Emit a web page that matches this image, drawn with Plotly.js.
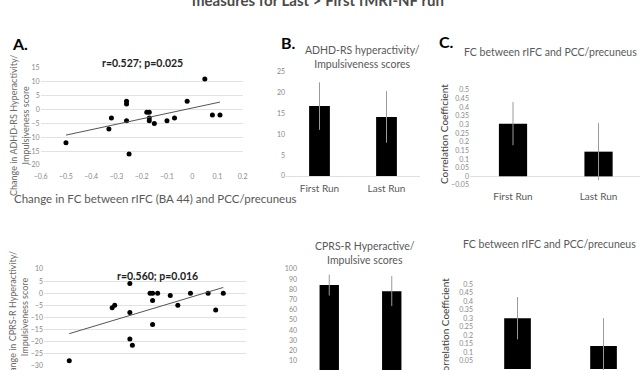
<!DOCTYPE html>
<html>
<head>
<meta charset="utf-8">
<script src="https://cdn.plot.ly/plotly-3.0.1.min.js"></script>
<style>html,body{margin:0;padding:0;background:#fff;}#chart{width:640px;height:370px;}</style>
</head>
<body>
<div id="chart"></div>
<script>
// ---- Data ----
const fcChangeA = [-0.5, -0.33, -0.32, -0.26, -0.26, -0.26, -0.25, -0.18, -0.17, -0.17, -0.17, -0.15, -0.1, -0.07, -0.02, 0.05, 0.08, 0.11];
const adhdChange = [-12, -7, -3, 3, 2, -4, -16, -1, -1, -3, -4, -5, -4, -3, 3, 11, -2, -2];
const fcChangeB = [-0.5, -0.33, -0.32, -0.26, -0.26, -0.26, -0.25, -0.18, -0.17, -0.17, -0.17, -0.15, -0.1, -0.07, -0.02, 0.05, 0.08, 0.11];
const cprsChange = [-28, -6, -5, 4, -8, -19, -21.5, 0, 0, -3, -13, 0, -1, -5, 0, 0, -7, 0];
const runs = ['First Run', 'Last Run'];
const adhdMeans = [16.8, 14.2];
const adhdErr = [5.7, 6.2];
const fcTopMeans = [0.305, 0.143];
const fcTopErr = [0.125, 0.165];
const cprsMeans = [84.3, 78.3];
const cprsErr = [10.3, 14.7];
const fcBottomMeans = [0.30, 0.135];
const fcBottomErr = [0.125, 0.165];
const statsA = 'r=0.527; p=0.025';
const statsB = 'r=0.560; p=0.016';

// ---- Helpers ----
const W = 640, H = 370;
const px = v => v / W;
const py = v => 1 - v / H;
function fit(xs, ys) {
  const n = xs.length;
  const mx = xs.reduce((a, b) => a + b, 0) / n;
  const my = ys.reduce((a, b) => a + b, 0) / n;
  let sxy = 0, sxx = 0;
  for (let i = 0; i < n; i++) { sxy += (xs[i] - mx) * (ys[i] - my); sxx += (xs[i] - mx) ** 2; }
  const b = sxy / sxx, a = my - b * mx;
  const x0 = Math.min(...xs), x1 = Math.max(...xs);
  return { x: [x0, x1], y: [a + b * x0, a + b * x1] };
}
const fitA = fit(fcChangeA, adhdChange);
const fitB = fit(fcChangeB, cprsChange);

const tickFont = { family: 'Lato', size: 7, color: '#8a8a8a' };
const catFont = { family: 'Lato', size: 10, color: '#595959' };
const errStyle = (arr) => ({ type: 'data', array: arr, visible: true, color: '#9a9a9a', thickness: 1, width: 0 });

const traces = [
  { type: 'scatter', mode: 'markers', x: fcChangeA, y: adhdChange, xaxis: 'x', yaxis: 'y',
    marker: { color: '#000', size: 5 }, cliponaxis: false },
  { type: 'scatter', mode: 'lines', x: fitA.x, y: fitA.y, xaxis: 'x', yaxis: 'y',
    line: { color: '#555', width: 1 } },
  { type: 'bar', x: runs, y: adhdMeans, xaxis: 'x2', yaxis: 'y2', width: 0.31,
    marker: { color: '#000' }, error_y: errStyle(adhdErr) },
  { type: 'bar', x: runs, y: fcTopMeans, xaxis: 'x3', yaxis: 'y3', width: 0.33,
    marker: { color: '#000' }, error_y: errStyle(fcTopErr) },
  { type: 'scatter', mode: 'markers', x: fcChangeB, y: cprsChange, xaxis: 'x4', yaxis: 'y4',
    marker: { color: '#000', size: 5 }, cliponaxis: false },
  { type: 'scatter', mode: 'lines', x: fitB.x, y: fitB.y, xaxis: 'x4', yaxis: 'y4',
    line: { color: '#555', width: 1 } },
  { type: 'bar', x: runs, y: cprsMeans, xaxis: 'x5', yaxis: 'y5', width: 0.31,
    marker: { color: '#000' }, error_y: errStyle(cprsErr) },
  { type: 'bar', x: runs, y: fcBottomMeans, xaxis: 'x6', yaxis: 'y6', width: 0.31,
    marker: { color: '#000' }, error_y: errStyle(fcBottomErr) }
];

const noGridX = { showgrid: false, zeroline: false, showline: false, ticks: '', fixedrange: true };
const gridY = { showgrid: true, gridcolor: '#e2e2e2', gridwidth: 1, zeroline: false, showline: false, ticks: '', tickfont: tickFont };
const barY = { showgrid: false, zeroline: false, showline: false, ticks: '', tickfont: tickFont };

const layout = {
  width: W, height: H,
  margin: { l: 0, r: 0, t: 0, b: 0 },
  paper_bgcolor: '#fff', plot_bgcolor: 'rgba(0,0,0,0)',
  showlegend: false,
  font: { family: 'Lato', color: '#595959' },
  xaxis: Object.assign({}, noGridX, { domain: [px(40.7), px(242.7)], range: [-0.6, 0.2], tick0: -0.6, dtick: 0.1, tickfont: tickFont, anchor: 'y', ticklabelstandoff: 6 }),
  yaxis: Object.assign({}, gridY, { domain: [py(165), py(68)], range: [-20, 15], dtick: 5, tick0: 0, anchor: 'x' }),
  xaxis2: Object.assign({}, noGridX, { domain: [px(286), px(420)], type: 'category', range: [-0.5, 1.5], tickfont: catFont, anchor: 'y2', showline: true, linecolor: '#e0e0e0', ticklabelstandoff: 3 }),
  yaxis2: Object.assign({}, barY, { domain: [py(176), py(72)], range: [0, 25], dtick: 5, tick0: 0, anchor: 'x2' }),
  xaxis3: Object.assign({}, noGridX, { domain: [px(470), 1], type: 'category', range: [-0.503, 1.485], tickfont: catFont, anchor: 'y3', ticklabelstandoff: 4 }),
  yaxis3: Object.assign({}, barY, { domain: [py(185), py(90)], range: [-0.05, 0.5], dtick: 0.05, tick0: 0, anchor: 'x3', zeroline: true, zerolinecolor: '#e0e0e0', zerolinewidth: 1 }),
  xaxis4: Object.assign({}, noGridX, { domain: [px(44), px(246)], range: [-0.6, 0.2], showticklabels: false, anchor: 'y4' }),
  yaxis4: Object.assign({}, gridY, { domain: [py(365.7), py(269)], range: [-30, 10], dtick: 5, tick0: 0, anchor: 'x4' }),
  xaxis5: Object.assign({}, noGridX, { domain: [px(298), px(423)], type: 'category', range: [-0.5, 1.5], showticklabels: false, anchor: 'y5' }),
  yaxis5: Object.assign({}, barY, { domain: [0, py(269)], range: [0.98, 100], dtick: 10, tick0: 0, anchor: 'x5' }),
  xaxis6: Object.assign({}, noGridX, { domain: [px(474), 1], type: 'category', range: [-0.506, 1.424], showticklabels: false, anchor: 'y6' }),
  yaxis6: Object.assign({}, barY, { domain: [0, py(284.3)], range: [-0.006, 0.5], dtick: 0.05, tick0: 0, anchor: 'x6' }),
  annotations: [
    { text: '<b>measures for Last &gt; First fMRI-NF run</b>', xref: 'paper', yref: 'paper', x: px(318), y: py(11), xanchor: 'center', yanchor: 'bottom', showarrow: false, font: { family: 'Lato', size: 15, color: '#4a4a4a' } },
    { text: '<b>A.</b>', xref: 'paper', yref: 'paper', x: px(20), y: py(43), xanchor: 'center', yanchor: 'middle', showarrow: false, font: { family: 'Lato', size: 16, color: '#000' } },
    { text: '<b>B.</b>', xref: 'paper', yref: 'paper', x: px(288.5), y: py(42.5), xanchor: 'center', yanchor: 'middle', showarrow: false, font: { family: 'Lato', size: 16, color: '#000' } },
    { text: '<b>C.</b>', xref: 'paper', yref: 'paper', x: px(446.5), y: py(42), xanchor: 'center', yanchor: 'middle', showarrow: false, font: { family: 'Lato', size: 16, color: '#000' } },
    { text: '<b>' + statsA + '</b>', xref: 'paper', yref: 'paper', x: px(142), y: py(63), xanchor: 'center', yanchor: 'middle', showarrow: false, font: { family: 'Lato', size: 10.5, color: '#222' } },
    { text: '<b>' + statsB + '</b>', xref: 'paper', yref: 'paper', x: px(157), y: py(276), xanchor: 'center', yanchor: 'middle', showarrow: false, font: { family: 'Lato', size: 10.5, color: '#222' } },
    { text: 'Change in ADHD-RS Hyperactivity/<br>Impulsiveness score', xref: 'paper', yref: 'paper', x: px(19), y: py(126), xanchor: 'center', yanchor: 'middle', textangle: -90, showarrow: false, font: { family: 'Lato', size: 9, color: '#6a6a6a' } },
    { text: 'Change in FC between rIFC (BA 44) and PCC/precuneus', xref: 'paper', yref: 'paper', x: px(12), y: py(198), xanchor: 'left', yanchor: 'middle', showarrow: false, font: { family: 'Lato', size: 11.5, color: '#595959' } },
    { text: 'ADHD-RS hyperactivity/<br>Impulsiveness scores', xref: 'paper', yref: 'paper', x: px(362), y: py(57), xanchor: 'center', yanchor: 'middle', showarrow: false, font: { family: 'Lato', size: 10.5, color: '#595959' } },
    { text: 'FC between rIFC and PCC/precuneus', xref: 'paper', yref: 'paper', x: px(550), y: py(52), xanchor: 'center', yanchor: 'middle', showarrow: false, font: { family: 'Lato', size: 10.5, color: '#595959' } },
    { text: 'Correlation Coefficient', xref: 'paper', yref: 'paper', x: px(444), y: py(134), xanchor: 'center', yanchor: 'middle', textangle: -90, showarrow: false, font: { family: 'Lato', size: 10, color: '#3a3a3a' } },
    { text: 'Change in CPRS-R Hyperactivity/<br>Impulsiveness score', xref: 'paper', yref: 'paper', x: px(18), y: py(317), xanchor: 'center', yanchor: 'middle', textangle: -90, showarrow: false, font: { family: 'Lato', size: 9, color: '#6a6a6a' } },
    { text: 'CPRS-R Hyperactive/<br>Impulsive scores', xref: 'paper', yref: 'paper', x: px(365), y: py(253), xanchor: 'center', yanchor: 'middle', showarrow: false, font: { family: 'Lato', size: 10.5, color: '#595959' } },
    { text: 'FC between rIFC and PCC/precuneus', xref: 'paper', yref: 'paper', x: px(549), y: py(244), xanchor: 'center', yanchor: 'middle', showarrow: false, font: { family: 'Lato', size: 10.5, color: '#595959' } },
    { text: 'Correlation Coefficient', xref: 'paper', yref: 'paper', x: px(445), y: py(328), xanchor: 'center', yanchor: 'middle', textangle: -90, showarrow: false, font: { family: 'Lato', size: 10, color: '#3a3a3a' } }
  ]
};

Plotly.newPlot('chart', traces, layout, { staticPlot: true, displayModeBar: false });
</script>
</body>
</html>
